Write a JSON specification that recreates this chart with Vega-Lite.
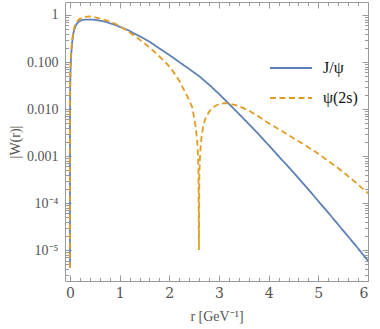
{
  "$schema": "https://vega.github.io/schema/vega-lite/v6.json",
  "width": 303,
  "height": 279,
  "autosize": {"type": "none"},
  "padding": {"left": 65, "top": 2, "right": 12, "bottom": 48},
  "background": "white",
  "config": {
    "view": {"stroke": "#9a9a9a", "strokeWidth": 1},
    "axis": {"domain": false, "grid": false, "tickColor": "#9a9a9a", "labelFontSize": 14, "labelColor": "#555555", "titleFontSize": 14, "titleColor": "#555555", "titleFontWeight": "normal"}
  },
  "data": {"values": [
    {"r": 0.000001, "W": 4.2e-6, "s": "J/ψ"},
    {"r": 0.00001, "W": 4e-5, "s": "J/ψ"},
    {"r": 0.0001, "W": 4e-4, "s": "J/ψ"},
    {"r": 0.001, "W": 0.004, "s": "J/ψ"},
    {"r": 0.005, "W": 0.03, "s": "J/ψ"},
    {"r": 0.01, "W": 0.06, "s": "J/ψ"},
    {"r": 0.02, "W": 0.12, "s": "J/ψ"},
    {"r": 0.04, "W": 0.24, "s": "J/ψ"},
    {"r": 0.07, "W": 0.42, "s": "J/ψ"},
    {"r": 0.1, "W": 0.54, "s": "J/ψ"},
    {"r": 0.14, "W": 0.66, "s": "J/ψ"},
    {"r": 0.19, "W": 0.74, "s": "J/ψ"},
    {"r": 0.24, "W": 0.78, "s": "J/ψ"},
    {"r": 0.3, "W": 0.795, "s": "J/ψ"},
    {"r": 0.4, "W": 0.80, "s": "J/ψ"},
    {"r": 0.5, "W": 0.79, "s": "J/ψ"},
    {"r": 0.6, "W": 0.76, "s": "J/ψ"},
    {"r": 0.7, "W": 0.72, "s": "J/ψ"},
    {"r": 0.8, "W": 0.67, "s": "J/ψ"},
    {"r": 0.9, "W": 0.62, "s": "J/ψ"},
    {"r": 1.0, "W": 0.56, "s": "J/ψ"},
    {"r": 1.1, "W": 0.51, "s": "J/ψ"},
    {"r": 1.2, "W": 0.46, "s": "J/ψ"},
    {"r": 1.3, "W": 0.40, "s": "J/ψ"},
    {"r": 1.4, "W": 0.355, "s": "J/ψ"},
    {"r": 1.5, "W": 0.31, "s": "J/ψ"},
    {"r": 1.6, "W": 0.27, "s": "J/ψ"},
    {"r": 1.8, "W": 0.195, "s": "J/ψ"},
    {"r": 2.0, "W": 0.141, "s": "J/ψ"},
    {"r": 2.2, "W": 0.10, "s": "J/ψ"},
    {"r": 2.4, "W": 0.071, "s": "J/ψ"},
    {"r": 2.6, "W": 0.05, "s": "J/ψ"},
    {"r": 2.8, "W": 0.033, "s": "J/ψ"},
    {"r": 3.0, "W": 0.021, "s": "J/ψ"},
    {"r": 3.2, "W": 0.0129, "s": "J/ψ"},
    {"r": 3.4, "W": 0.0079, "s": "J/ψ"},
    {"r": 3.6, "W": 0.0048, "s": "J/ψ"},
    {"r": 3.8, "W": 0.0029, "s": "J/ψ"},
    {"r": 4.0, "W": 0.0017, "s": "J/ψ"},
    {"r": 4.25, "W": 8.7e-4, "s": "J/ψ"},
    {"r": 4.5, "W": 4.5e-4, "s": "J/ψ"},
    {"r": 4.75, "W": 2.24e-4, "s": "J/ψ"},
    {"r": 5.0, "W": 1.1e-4, "s": "J/ψ"},
    {"r": 5.25, "W": 5.4e-5, "s": "J/ψ"},
    {"r": 5.5, "W": 2.6e-5, "s": "J/ψ"},
    {"r": 5.75, "W": 1.26e-5, "s": "J/ψ"},
    {"r": 6.0, "W": 5.9e-6, "s": "J/ψ"},
    {"r": 0.000001, "W": 4.2e-6, "s": "ψ(2s)"},
    {"r": 0.00001, "W": 4.5e-5, "s": "ψ(2s)"},
    {"r": 0.0001, "W": 4.5e-4, "s": "ψ(2s)"},
    {"r": 0.001, "W": 0.0045, "s": "ψ(2s)"},
    {"r": 0.005, "W": 0.033, "s": "ψ(2s)"},
    {"r": 0.01, "W": 0.066, "s": "ψ(2s)"},
    {"r": 0.02, "W": 0.14, "s": "ψ(2s)"},
    {"r": 0.04, "W": 0.28, "s": "ψ(2s)"},
    {"r": 0.07, "W": 0.46, "s": "ψ(2s)"},
    {"r": 0.1, "W": 0.6, "s": "ψ(2s)"},
    {"r": 0.14, "W": 0.72, "s": "ψ(2s)"},
    {"r": 0.19, "W": 0.82, "s": "ψ(2s)"},
    {"r": 0.24, "W": 0.87, "s": "ψ(2s)"},
    {"r": 0.3, "W": 0.91, "s": "ψ(2s)"},
    {"r": 0.38, "W": 0.93, "s": "ψ(2s)"},
    {"r": 0.46, "W": 0.91, "s": "ψ(2s)"},
    {"r": 0.55, "W": 0.87, "s": "ψ(2s)"},
    {"r": 0.7, "W": 0.79, "s": "ψ(2s)"},
    {"r": 0.9, "W": 0.66, "s": "ψ(2s)"},
    {"r": 1.1, "W": 0.5, "s": "ψ(2s)"},
    {"r": 1.3, "W": 0.36, "s": "ψ(2s)"},
    {"r": 1.5, "W": 0.25, "s": "ψ(2s)"},
    {"r": 1.7, "W": 0.165, "s": "ψ(2s)"},
    {"r": 1.9, "W": 0.105, "s": "ψ(2s)"},
    {"r": 2.0, "W": 0.08, "s": "ψ(2s)"},
    {"r": 2.1, "W": 0.058, "s": "ψ(2s)"},
    {"r": 2.2, "W": 0.04, "s": "ψ(2s)"},
    {"r": 2.3, "W": 0.025, "s": "ψ(2s)"},
    {"r": 2.4, "W": 0.0155, "s": "ψ(2s)"},
    {"r": 2.46, "W": 0.011, "s": "ψ(2s)"},
    {"r": 2.5, "W": 0.0065, "s": "ψ(2s)"},
    {"r": 2.53, "W": 0.0042, "s": "ψ(2s)"},
    {"r": 2.56, "W": 0.0022, "s": "ψ(2s)"},
    {"r": 2.575, "W": 0.0012, "s": "ψ(2s)"},
    {"r": 2.587, "W": 0.0005, "s": "ψ(2s)"},
    {"r": 2.596, "W": 1e-5, "s": "ψ(2s)"},
    {"r": 2.605, "W": 0.0004, "s": "ψ(2s)"},
    {"r": 2.62, "W": 0.00115, "s": "ψ(2s)"},
    {"r": 2.65, "W": 0.0026, "s": "ψ(2s)"},
    {"r": 2.68, "W": 0.0042, "s": "ψ(2s)"},
    {"r": 2.72, "W": 0.006, "s": "ψ(2s)"},
    {"r": 2.8, "W": 0.0087, "s": "ψ(2s)"},
    {"r": 2.88, "W": 0.011, "s": "ψ(2s)"},
    {"r": 3.0, "W": 0.0127, "s": "ψ(2s)"},
    {"r": 3.1, "W": 0.0133, "s": "ψ(2s)"},
    {"r": 3.2, "W": 0.0132, "s": "ψ(2s)"},
    {"r": 3.4, "W": 0.0115, "s": "ψ(2s)"},
    {"r": 3.6, "W": 0.0093, "s": "ψ(2s)"},
    {"r": 3.8, "W": 0.0069, "s": "ψ(2s)"},
    {"r": 4.0, "W": 0.005, "s": "ψ(2s)"},
    {"r": 4.25, "W": 0.0035, "s": "ψ(2s)"},
    {"r": 4.5, "W": 0.0024, "s": "ψ(2s)"},
    {"r": 4.75, "W": 0.00166, "s": "ψ(2s)"},
    {"r": 5.0, "W": 0.00112, "s": "ψ(2s)"},
    {"r": 5.25, "W": 7.2e-4, "s": "ψ(2s)"},
    {"r": 5.5, "W": 4.6e-4, "s": "ψ(2s)"},
    {"r": 5.75, "W": 2.75e-4, "s": "ψ(2s)"},
    {"r": 6.0, "W": 1.62e-4, "s": "ψ(2s)"}
  ]},
  "resolve": {"axis": {"x": "independent", "y": "independent"}},
  "layer": [
    {
      "mark": {"type": "line", "strokeWidth": 1.8, "clip": true},
      "encoding": {
        "x": {"field": "r", "type": "quantitative", "scale": {"domain": [-0.1, 6], "nice": false, "zero": false},
              "axis": {"orient": "bottom", "values": [0, 1, 2, 3, 4, 5, 6], "format": "d", "tickSize": -6, "labelPadding": 11, "labelFont": "DejaVu Serif", "titleFont": "Times New Roman", "title": "r [GeV⁻¹]", "titlePadding": 9}},
        "y": {"field": "W", "type": "quantitative", "scale": {"type": "log", "domain": [2.2e-6, 1.89], "nice": false},
              "axis": {"orient": "left", "values": [1e-5, 1e-4, 0.001, 0.01, 0.1, 1], "tickSize": -6, "labelPadding": 13, "labelFont": "Liberation Serif", "titleFont": "serif",
                       "labelExpr": "datum.value > 0.5 ? '1' : datum.value > 0.05 ? '0.100' : datum.value > 0.005 ? '0.010' : datum.value > 0.0005 ? '0.001' : datum.value > 0.00005 ? '10⁻⁴' : '10⁻⁵'",
                       "title": "|W(r)|", "titlePadding": 4}},
        "color": {"field": "s", "type": "nominal", "scale": {"domain": ["J/ψ", "ψ(2s)"], "range": ["#5E81B5", "#E19C24"]},
                  "legend": {"title": null, "orient": "none", "legendX": 204, "legendY": 44, "symbolType": "stroke", "symbolSize": 1764, "symbolStrokeWidth": 1.8, "labelFont": "Liberation Serif", "labelFontSize": 16, "labelColor": "#111111", "labelOffset": 10, "rowPadding": -9, "padding": 0}},
        "strokeDash": {"field": "s", "type": "nominal", "scale": {"domain": ["J/ψ", "ψ(2s)"], "range": [[1, 0], [6, 3.5]]},
                  "legend": {"title": null, "orient": "none", "legendX": 204, "legendY": 44, "symbolType": "stroke", "symbolSize": 1764, "symbolStrokeWidth": 1.8, "labelFont": "Liberation Serif", "labelFontSize": 16, "labelColor": "#111111", "labelOffset": 10, "rowPadding": -9, "padding": 0}}
      }
    },
    {
      "mark": {"type": "line", "opacity": 0},
      "encoding": {
        "x": {"field": "r", "type": "quantitative", "scale": {"domain": [-0.1, 6], "nice": false, "zero": false},
              "axis": {"orient": "top", "values": [0, 1, 2, 3, 4, 5, 6], "tickSize": -6, "labels": false, "title": null}},
        "y": {"field": "W", "type": "quantitative", "scale": {"type": "log", "domain": [2.2e-6, 1.89], "nice": false},
              "axis": {"orient": "right", "values": [1e-5, 1e-4, 0.001, 0.01, 0.1, 1], "tickSize": -6, "labels": false, "title": null}}
      }
    },
    {
      "mark": {"type": "line", "opacity": 0},
      "encoding": {
        "x": {"field": "r", "type": "quantitative", "scale": {"domain": [-0.1, 6], "nice": false, "zero": false},
              "axis": {"orient": "bottom", "values": [0.2, 0.4, 0.6, 0.8, 1.2, 1.4, 1.6, 1.8, 2.2, 2.4, 2.6, 2.8, 3.2, 3.4, 3.6, 3.8, 4.2, 4.4, 4.6, 4.8, 5.2, 5.4, 5.6, 5.8], "tickSize": -3.5, "labels": false, "title": null}},
        "y": {"field": "W", "type": "quantitative", "scale": {"type": "log", "domain": [2.2e-6, 1.89], "nice": false},
              "axis": {"orient": "left", "values": [3e-6, 4e-6, 5e-6, 6e-6, 7e-6, 8e-6, 9e-6, 2e-5, 3e-5, 4e-5, 5e-5, 6e-5, 7e-5, 8e-5, 9e-5, 2e-4, 3e-4, 4e-4, 5e-4, 6e-4, 7e-4, 8e-4, 9e-4, 0.002, 0.003, 0.004, 0.005, 0.006, 0.007, 0.008, 0.009, 0.02, 0.03, 0.04, 0.05, 0.06, 0.07, 0.08, 0.09, 0.2, 0.3, 0.4, 0.5, 0.6, 0.7, 0.8, 0.9], "tickSize": -3.5, "labels": false, "title": null}}
      }
    },
    {
      "mark": {"type": "line", "opacity": 0},
      "encoding": {
        "x": {"field": "r", "type": "quantitative", "scale": {"domain": [-0.1, 6], "nice": false, "zero": false},
              "axis": {"orient": "top", "values": [0.2, 0.4, 0.6, 0.8, 1.2, 1.4, 1.6, 1.8, 2.2, 2.4, 2.6, 2.8, 3.2, 3.4, 3.6, 3.8, 4.2, 4.4, 4.6, 4.8, 5.2, 5.4, 5.6, 5.8], "tickSize": -3.5, "labels": false, "title": null}},
        "y": {"field": "W", "type": "quantitative", "scale": {"type": "log", "domain": [2.2e-6, 1.89], "nice": false},
              "axis": {"orient": "right", "values": [3e-6, 4e-6, 5e-6, 6e-6, 7e-6, 8e-6, 9e-6, 2e-5, 3e-5, 4e-5, 5e-5, 6e-5, 7e-5, 8e-5, 9e-5, 2e-4, 3e-4, 4e-4, 5e-4, 6e-4, 7e-4, 8e-4, 9e-4, 0.002, 0.003, 0.004, 0.005, 0.006, 0.007, 0.008, 0.009, 0.02, 0.03, 0.04, 0.05, 0.06, 0.07, 0.08, 0.09, 0.2, 0.3, 0.4, 0.5, 0.6, 0.7, 0.8, 0.9], "tickSize": -3.5, "labels": false, "title": null}}
      }
    }
  ]
}
